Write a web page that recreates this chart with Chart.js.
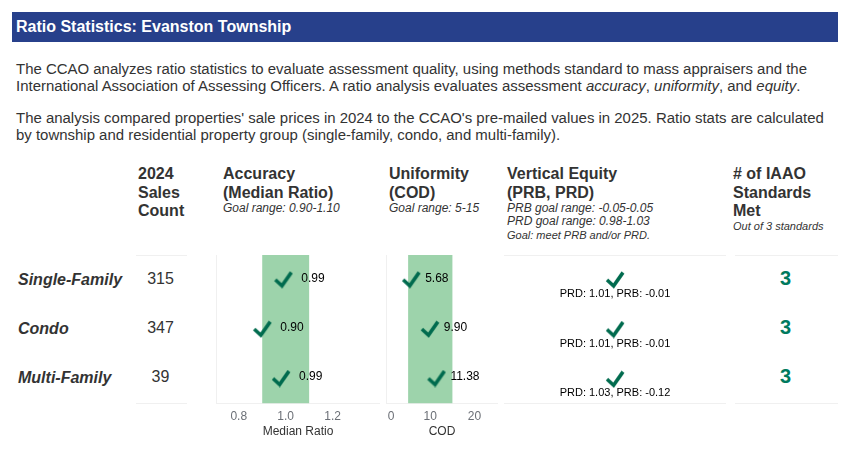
<!DOCTYPE html>
<html>
<head>
<meta charset="utf-8">
<title>Ratio Statistics: Evanston Township</title>
<script src="https://cdn.jsdelivr.net/npm/chart.js@4"></script>
<style>
  html, body { margin: 0; padding: 0; background: #fff; }
  body { width: 850px; height: 450px; position: relative; overflow: hidden; font-family: "Liberation Sans", Arial, sans-serif; color: #333; }
  .abs { position: absolute; white-space: nowrap; }
  #titleBar { left: 12px; top: 12px; width: 822px; height: 30px; padding-left: 4px; line-height: 30px; background: #27408b; color: #fff; font-size: 16px; font-weight: bold; }
  .para { left: 16px; font-size: 14.96px; line-height: 16px; }
  .head { font-size: 16px; font-weight: bold; line-height: 18.5px; }
  .sub { font-size: 12px; font-style: italic; line-height: 13.4px; }
  .rowName { left: 18px; font-size: 16px; font-weight: bold; font-style: italic; line-height: 20px; }
  .count { left: 135px; width: 51px; text-align: center; font-size: 16px; line-height: 20px; }
  .met { left: 735px; width: 101px; text-align: center; font-size: 20px; font-weight: bold; color: #007a5e; line-height: 24px; }
  .rule { height: 1px; background: #f0f0f0; }
  canvas { position: absolute; }
</style>
</head>
<body>
<div class="abs" id="titleBar">Ratio Statistics: Evanston Township</div>
<div class="abs para" style="top:61px">The CCAO analyzes ratio statistics to evaluate assessment quality, using methods standard to mass appraisers and the</div>
<div class="abs para" style="top:78px">International Association of Assessing Officers. A ratio analysis evaluates assessment <i>accuracy</i>, <i>uniformity</i>, and <i>equity</i>.</div>
<div class="abs para" style="top:110px">The analysis compared properties' sale prices in 2024 to the CCAO's pre-mailed values in 2025. Ratio stats are calculated</div>
<div class="abs para" style="top:127px">by township and residential property group (single-family, condo, and multi-family).</div>

<div class="abs head" style="left:138px;top:165px">2024<br>Sales<br>Count</div>
<div class="abs head" style="left:223px;top:165px">Accuracy<br>(Median Ratio)</div>
<div class="abs sub" style="left:223px;top:202px">Goal range: 0.90-1.10</div>
<div class="abs head" style="left:389px;top:165px">Uniformity<br>(COD)</div>
<div class="abs sub" style="left:389px;top:202px">Goal range: 5-15</div>
<div class="abs head" style="left:507px;top:165px">Vertical Equity<br>(PRB, PRD)</div>
<div class="abs sub" style="left:507px;top:202px">PRB goal range: -0.05-0.05<br>PRD goal range: 0.98-1.03<br><span style="font-size:11px">Goal: meet PRB and/or PRD.</span></div>
<div class="abs head" style="left:733px;top:165px"># of IAAO<br>Standards<br>Met</div>
<div class="abs sub" style="left:733px;top:220px;font-size:11px">Out of 3 standards</div>

<div class="abs rule" style="left:136px;top:255px;width:51px"></div>
<div class="abs rule" style="left:136px;top:403px;width:51px"></div>
<div class="abs rule" style="left:504px;top:255px;width:222px"></div>
<div class="abs rule" style="left:504px;top:403px;width:222px"></div>
<div class="abs rule" style="left:735px;top:255px;width:103px"></div>
<div class="abs rule" style="left:735px;top:403px;width:103px"></div>

<canvas id="ratioChart" style="left:216px;top:255px"></canvas>
<canvas id="codChart" style="left:386px;top:255px"></canvas>
<canvas id="equityChart" style="left:504px;top:255px"></canvas>

<script>
const categories = ['Single-Family', 'Condo', 'Multi-Family'];
const salesCounts = [315, 347, 39];
const ratioValues = [0.99, 0.90, 0.98];
const ratioLabels = ['0.99', '0.90', '0.99'];
const ratioGoal = [0.90, 1.10];
const ratioTicks = [0.8, 1.0, 1.2];
const codValues = [5.68, 9.90, 11.38];
const codGoal = [5, 15];
const codTicks = [0, 10, 20];
const prdValues = ['1.01', '1.01', '1.03'];
const prbValues = ['-0.01', '-0.01', '-0.12'];
const standardsMet = [3, 3, 3];

const checkColor = '#006b4e';
const rowTops = [270, 319, 368];

// text rows beside the charts
categories.forEach((name, i) => {
  document.body.insertAdjacentHTML('beforeend',
    `<div class="abs rowName" style="top:${rowTops[i]}px">${name}</div>` +
    `<div class="abs count" style="top:${rowTops[i] - 1}px">${salesCounts[i]}</div>` +
    `<div class="abs met" style="top:${rowTops[i] - 4}px">${standardsMet[i]}</div>`);
});

// heavy check mark used as the point style
function makeCheck() {
  const c = document.createElement('canvas');
  c.width = 20;
  c.height = 18;
  const g = c.getContext('2d');
  g.strokeStyle = checkColor;
  g.lineWidth = 3.6;
  g.lineJoin = 'miter';
  g.beginPath();
  g.moveTo(2, 9);
  g.lineTo(8.6, 15);
  g.lineTo(18, 1.6);
  g.stroke();
  return c;
}
const checkMark = makeCheck();

const goalBand = {
  id: 'goalBand',
  beforeDatasetsDraw(chart, args, opts) {
    if (!opts.range) return;
    const { ctx, chartArea, scales } = chart;
    const x0 = scales.x.getPixelForValue(opts.range[0]);
    const x1 = scales.x.getPixelForValue(opts.range[1]);
    ctx.save();
    ctx.fillStyle = '#9dd3ab';
    ctx.fillRect(x0, chartArea.top, x1 - x0, chartArea.bottom - chartArea.top);
    ctx.restore();
  }
};

// value labels next to (or under) each check
const pointLabels = {
  id: 'pointLabels',
  afterDatasetsDraw(chart, args, opts) {
    if (!opts.labels) return;
    const { ctx } = chart;
    ctx.save();
    ctx.fillStyle = '#000';
    ctx.font = opts.font;
    ctx.textAlign = opts.align;
    ctx.textBaseline = 'middle';
    chart.getDatasetMeta(0).data.forEach((pt, i) => {
      ctx.fillText(opts.labels[i], pt.x + opts.dx, pt.y + opts.dy);
    });
    ctx.restore();
  }
};

function dotChart(id, width, values, min, max, ticks, goal, title, labels, labelGap) {
  const cv = document.getElementById(id);
  cv.width = width;
  cv.height = 184;
  return new Chart(cv, {
    type: 'scatter',
    data: {
      datasets: [{
        data: values.map((v, i) => ({ x: v, y: categories[i] })),
        pointStyle: checkMark,
        pointRadius: 9,
        clip: false
      }]
    },
    options: {
      responsive: false,
      animation: false,
      layout: { padding: 0, autoPadding: false },
      scales: {
        x: {
          type: 'linear',
          min: min,
          max: max,
          afterBuildTicks: axis => { axis.ticks = ticks.map(v => ({ value: v })); },
          // keep the plot flush with the canvas, tick labels may overhang
          afterFit: axis => { axis.paddingLeft = 0; axis.paddingRight = 0; },
          grid: { display: false, drawTicks: false },
          border: { color: '#f0f0f0' },
          ticks: {
            color: '#6b6f76',
            font: { family: 'Liberation Sans', size: 12 },
            maxRotation: 0,
            padding: 6.5,
            // the reference nudges the 0 label inward from the plot edge
            callback: v => (id === 'ratioChart' ? v.toFixed(1) : (v === 0 ? '   0' : String(v)))
          },
          title: {
            display: true,
            text: title,
            color: '#333',
            font: { family: 'Liberation Sans', size: 12 },
            padding: { top: -6, bottom: 0 }
          }
        },
        y: {
          type: 'category',
          labels: categories,
          offset: true,
          grid: { display: false, drawTicks: false },
          border: { color: '#f0f0f0' },
          ticks: { display: false }
        }
      },
      plugins: {
        legend: { display: false },
        tooltip: { enabled: false },
        goalBand: { range: goal },
        pointLabels: { labels: labels, font: '12px "Liberation Sans"', align: 'left', dx: labelGap, dy: -1.5 }
      }
    },
    plugins: [goalBand, pointLabels]
  });
}

dotChart('ratioChart', 164, ratioValues, 0.703, 1.402, ratioTicks, ratioGoal, 'Median Ratio', ratioLabels, 18);
dotChart('codChart', 112, codValues, 0, 25.3, codTicks, codGoal, 'COD', codValues.map(v => v.toFixed(2)), 14);

// equity column has no axis, just a check per group and its PRD / PRB text
const equityCanvas = document.getElementById('equityChart');
equityCanvas.width = 222;
equityCanvas.height = 149;
new Chart(equityCanvas, {
  type: 'scatter',
  data: {
    datasets: [{
      data: categories.map(c => ({ x: 0, y: c })),
      pointStyle: checkMark,
      pointRadius: 9
    }]
  },
  options: {
    responsive: false,
    animation: false,
    layout: { padding: 0, autoPadding: false },
    scales: {
      x: { type: 'linear', min: -1, max: 1, display: false },
      y: { type: 'category', labels: categories, offset: true, display: false }
    },
    plugins: {
      legend: { display: false },
      tooltip: { enabled: false },
      pointLabels: {
        labels: categories.map((c, i) => `PRD: ${prdValues[i]}, PRB: ${prbValues[i]}`),
        font: '11px "Liberation Sans"',
        align: 'center',
        dx: 0,
        dy: 14
      }
    }
  },
  plugins: [pointLabels]
});
</script>
</body>
</html>
